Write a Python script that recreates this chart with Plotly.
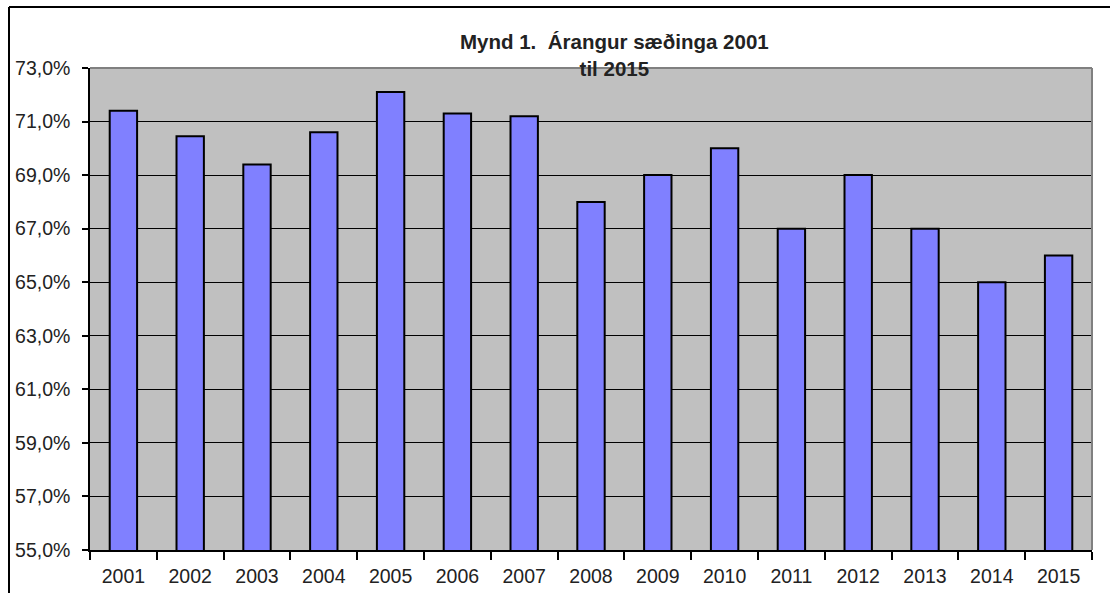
import plotly.graph_objects as go

years = ["2001", "2002", "2003", "2004", "2005", "2006", "2007", "2008",
         "2009", "2010", "2011", "2012", "2013", "2014", "2015"]
values = [71.4, 70.45, 69.4, 70.6, 72.1, 71.3, 71.2, 68.0,
          69.0, 70.0, 67.0, 69.0, 67.0, 65.0, 66.0]
y_ticks = [55, 57, 59, 61, 63, 65, 67, 69, 71, 73]
y_tick_labels = ["55,0%", "57,0%", "59,0%", "61,0%", "63,0%", "65,0%",
                 "67,0%", "69,0%", "71,0%", "73,0%"]
title_text = "Mynd 1.\u00a0 Árangur sæðinga 2001<br>til 2015"

FONT = "Liberation Sans, Arial, sans-serif"

fig = go.Figure()
fig.add_trace(go.Bar(
    x=years, y=values,
    marker=dict(color="#8080FF", line=dict(color="#000000", width=2)),
    hoverinfo="skip",
))

W, H = 1110, 593
L, R, T, B = 90, 18, 68, 43
pw, ph = W - L - R, H - T - B

def px_x(px):
    return (px - L) / pw

def px_y(py):
    return (H - B - py) / ph

fig.update_layout(
    width=W, height=H,
    margin=dict(l=L, r=R, t=T, b=B, pad=0, autoexpand=False),
    paper_bgcolor="white",
    plot_bgcolor="#C0C0C0",
    showlegend=False,
    bargap=0.59,
    font=dict(family=FONT, size=19.5, color="#222222"),
)
fig.update_yaxes(
    range=[55, 73], tickvals=y_ticks, ticktext=y_tick_labels,
    showgrid=True, gridcolor="#000000", gridwidth=1.2,
    showline=True, linecolor="#000000", linewidth=1.5,
    ticks="outside", ticklen=6, tickcolor="#000000", tickwidth=1.5,
    ticklabelstandoff=8, automargin=False,
    zeroline=False, mirror=False,
    tickfont=dict(family=FONT, size=19.5, color="#222222"),
)
fig.update_xaxes(
    type="category", tickson="boundaries",
    showline=True, linecolor="#000000", linewidth=1.5,
    ticks="outside", ticklen=8, tickcolor="#000000", tickwidth=1.5,
    ticklabelstandoff=8,
    showgrid=False, automargin=False,
    tickfont=dict(family=FONT, size=19.5, color="#222222"),
)

# plot-area gray border (top and right)
fig.add_shape(type="line", xref="paper", yref="paper", x0=0, x1=1, y0=1, y1=1,
              line=dict(color="#808080", width=2), layer="above")
fig.add_shape(type="line", xref="paper", yref="paper", x0=1, x1=1, y0=0, y1=1,
              line=dict(color="#808080", width=2), layer="above")

# outer chart border (top and left)
fig.add_shape(type="line", xref="paper", yref="paper",
              x0=px_x(9), x1=px_x(W + 5), y0=px_y(7), y1=px_y(7),
              line=dict(color="#000000", width=2))
fig.add_shape(type="line", xref="paper", yref="paper",
              x0=px_x(9), x1=px_x(9), y0=px_y(7), y1=px_y(H + 5),
              line=dict(color="#000000", width=2))

fig.add_annotation(
    text="<b>" + title_text + "</b>",
    xref="paper", yref="paper", x=px_x(614), y=px_y(55),
    xanchor="center", yanchor="middle", showarrow=False,
    font=dict(family=FONT, size=20.5, color="#222222"),
)

fig.write_html(
    "out.html",
    config={"displayModeBar": False},
    post_script="document.body.style.margin='0px';document.body.style.overflow='hidden';",
)
